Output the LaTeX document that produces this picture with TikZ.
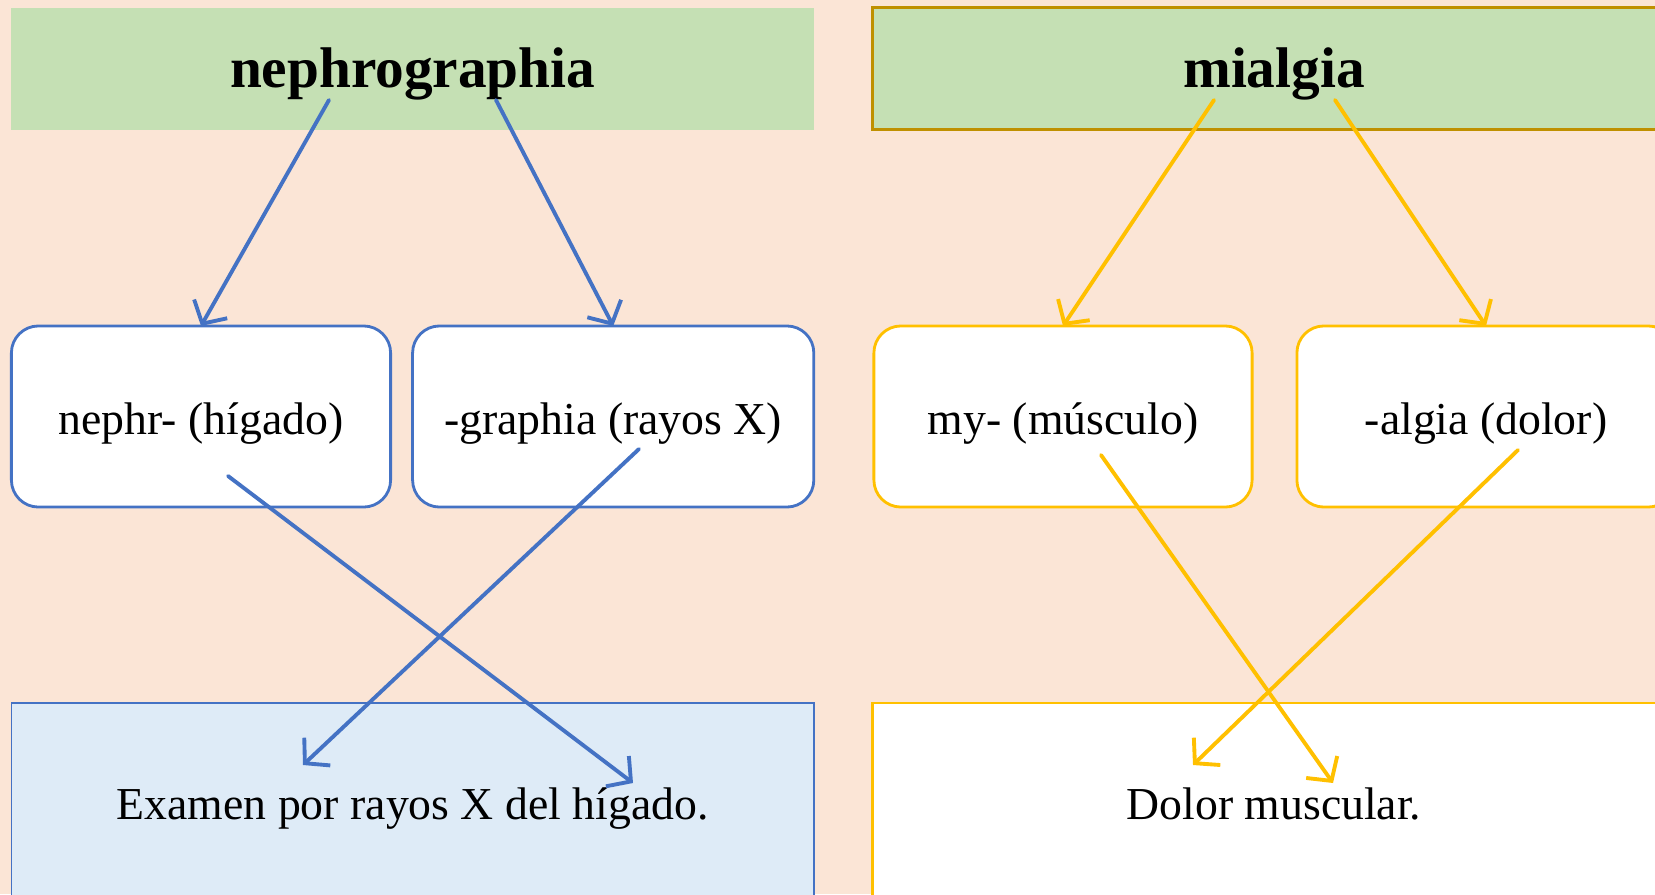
\documentclass[tikz,border=0pt]{standalone}
\usepackage{fontspec}
\setmainfont{Liberation Serif}
\usetikzlibrary{arrows.meta}
\definecolor{peach}{HTML}{FBE5D6}
\definecolor{leaf}{HTML}{C5E0B4}
\definecolor{officeblue}{HTML}{4472C4}
\definecolor{paleblue}{HTML}{DEEBF7}
\definecolor{gold}{HTML}{FFC000}
\definecolor{darkgold}{HTML}{BF9000}

\begin{document}
\begin{tikzpicture}[x=0.01cm, y=-0.01cm,
  word/.style={fill=leaf, minimum width=8.02cm, minimum height=1.22cm, inner sep=0pt, outer sep=0pt,
    text height=10.6pt, text depth=0pt, font=\fontsize{16.3}{18}\selectfont\bfseries},
  part/.style={draw=#1, fill=white, line width=0.8pt, rounded corners=0.27cm, minimum height=1.81cm,
    inner sep=0pt, outer sep=0pt, text height=10pt, text depth=0pt, font=\fontsize{13}{15}\selectfont},
  meaning/.style={minimum width=8.02cm, minimum height=2.04cm, inner sep=0pt, outer sep=0pt,
    text height=8.2pt, text depth=0pt, font=\fontsize{13}{15}\selectfont},
  link/.style={draw=#1, line width=1.1pt, line cap=round, -{Straight Barb[length=1.7mm,width=3.8mm]}}]

\fill [peach] (0,0) rectangle (1655,894);
\useasboundingbox (0,0) rectangle (1655,894);

% nephrographia
\node [word] (neph) at (412.7,68.6) {nephrographia};
\node [part=officeblue, minimum width=3.79cm] (nephr) at (201,416.5) {nephr- (hígado)};
\node [part=officeblue, minimum width=4.01cm] (graph) at (613.2,416.5) {-graphia (rayos X)};
\node [meaning, fill=paleblue, draw=officeblue, line width=0.5pt] (neph def) at (412.7,805) {Examen por rayos X del hígado.};

% mialgia
\node [word, draw=darkgold, line width=0.8pt] (mial) at (1274,68.7) {mialgia};
\node [part=gold, minimum width=3.78cm] (my) at (1063,416.5) {my- (músculo)};
\node [part=gold, minimum width=3.78cm] (alg) at (1486,416.5) {-algia (dolor)};
\node [meaning, fill=white, draw=gold, line width=0.8pt] (mial def) at (1274,805) {Dolor muscular.};

% free ends
\coordinate (n1) at (329,100);
\coordinate (n2) at (496,100);
\coordinate (n3) at (228,476);
\coordinate (n4) at (639,449);
\coordinate (n5) at (633,783);
\coordinate (n6) at (303,765);
\coordinate (m1) at (1214,100);
\coordinate (m2) at (1335,100);
\coordinate (m3) at (1101,455);
\coordinate (m4) at (1518,450);
\coordinate (m5) at (1333,783);
\coordinate (m6) at (1193,765);

\draw [link=officeblue] (n1) -- (nephr.north);
\draw [link=officeblue] (n2) -- (graph.north);
\draw [link=officeblue] (n3) -- (n5);
\draw [link=officeblue] (n4) -- (n6);
\draw [link=gold] (m1) -- (my.north);
\draw [link=gold] (m2) -- (alg.north);
\draw [link=gold] (m3) -- (m5);
\draw [link=gold] (m4) -- (m6);
\end{tikzpicture}
\end{document}
